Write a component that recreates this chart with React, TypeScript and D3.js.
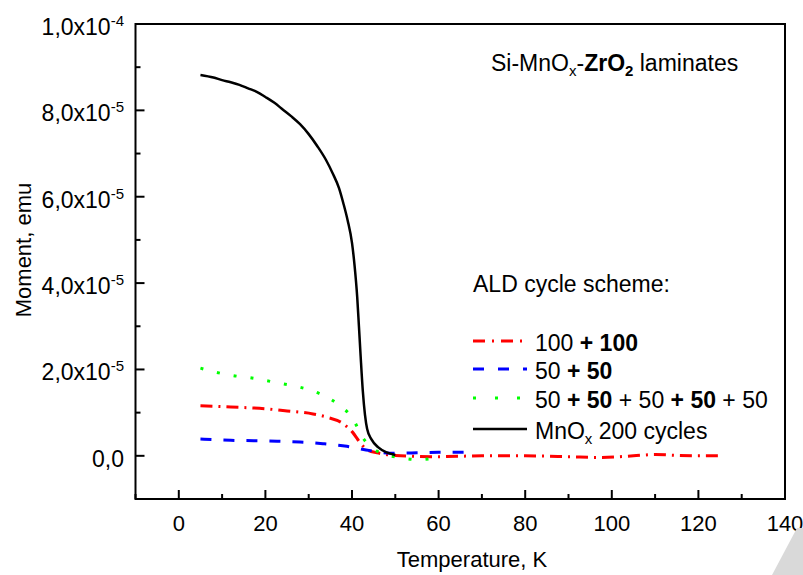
import React from "react";
import * as d3 from "d3";

const tempBlack = [5, 8, 10, 12, 14, 16, 18, 20, 22, 24, 26, 28, 30, 32, 34, 35.5, 37, 38, 39, 40, 40.6, 41.2, 41.6, 42, 42.5, 43, 43.5, 44.5, 46, 48, 50];
const momentBlack = [8.82, 8.76, 8.7, 8.65, 8.59, 8.51, 8.43, 8.31, 8.18, 8.02, 7.86, 7.68, 7.45, 7.17, 6.85, 6.55, 6.2, 5.85, 5.45, 4.93, 4.4, 3.68, 3.0, 2.3, 1.5, 0.95, 0.62, 0.38, 0.2, 0.08, 0.02].map((v) => v * 1e-5);

const tempRed = [5, 12, 20, 25, 31, 34, 38, 40, 42.3, 43.5, 45.8, 50, 60, 70, 80, 90, 97, 105, 110, 115, 120, 125];
const momentRed = [1.16, 1.13, 1.09, 1.04, 0.97, 0.9, 0.74, 0.56, 0.25, 0.14, 0.07, 0.01, -0.02, 0.0, 0.0, -0.02, -0.04, 0.0, 0.03, 0.01, 0.0, 0.0].map((v) => v * 1e-5);

const tempBlue = [5, 12, 22.7, 28, 33.3, 38.8, 44.2, 48.8, 55, 60, 65, 68];
const momentBlue = [0.39, 0.36, 0.34, 0.32, 0.28, 0.22, 0.12, 0.06, 0.07, 0.08, 0.08, 0.08].map((v) => v * 1e-5);

const tempGreen = [5, 8.8, 13, 16.5, 20.3, 23.8, 27.5, 31, 34.9, 37.2, 40.2, 42.3, 45.3, 48, 51.6, 55.3, 58];
const momentGreen = [2.03, 1.93, 1.85, 1.81, 1.74, 1.67, 1.6, 1.5, 1.32, 1.16, 0.86, 0.45, 0.14, 0.02, -0.05, -0.09, -0.07].map((v) => v * 1e-5);

const xTicks = [0, 20, 40, 60, 80, 100, 120, 140];
const xMinorTicks = [-10, 10, 30, 50, 70, 90, 110, 130];
const yTicks = [0, 2e-5, 4e-5, 6e-5, 8e-5, 1e-4];
const yTickMantissa = ["0,0", "2,0x10", "4,0x10", "6,0x10", "8,0x10", "1,0x10"];
const yTickExponent = ["", "-5", "-5", "-5", "-5", "-4"];
const yMinorTicks = [1e-5, 3e-5, 5e-5, 7e-5, 9e-5];

const FONT = "Liberation Sans, Arial, sans-serif";

export default function App() {
  const left = 135.5, right = 785, top = 24, bottom = 499;
  const x = d3.scaleLinear().domain([-10, 140]).range([left, right]);
  const y = d3.scaleLinear().domain([-1e-5, 1e-4]).range([bottom, top]);

  const mk = (ts: number[], ms: number[]) =>
    d3.line<number>().x((_, i) => x(ts[i])).y((_, i) => y(ms[i])).curve(d3.curveMonotoneX)(ts) || "";

  const series = [
    { d: mk(tempRed, momentRed), color: "#ff0000", dash: "12,6,2,6", w: 3 },
    { d: mk(tempBlue, momentBlue), color: "#0000ff", dash: "11,12", w: 3 },
    { d: mk(tempGreen, momentGreen), color: "#00ff00", dash: "3,14", w: 3 },
    { d: mk(tempBlack, momentBlack), color: "#000000", dash: "", w: 2.5 },
  ];

  const legendY = [341, 369, 398, 429];
  const legendColors = ["#ff0000", "#0000ff", "#00ff00", "#000000"];
  const legendDash = ["12,7,2,7", "11,14", "3,19", ""];
  const LF = 23;

  return (
    <svg width={803} height={575} style={{ position: "absolute", left: 0, top: 0, background: "#fff" }} fontFamily={FONT}>
      <rect x={0} y={0} width={803} height={575} fill="#fff" />
      <defs>
        <clipPath id="clip">
          <rect x={left} y={top} width={right - left} height={bottom - top} />
        </clipPath>
      </defs>
      <g clipPath="url(#clip)">
        {series.map((s, i) => (
          <path key={i} d={s.d} fill="none" stroke={s.color} strokeWidth={s.w} strokeDasharray={s.dash || undefined} />
        ))}
      </g>
      <rect x={left} y={top} width={right - left} height={bottom - top} fill="none" stroke="#000" strokeWidth={2} />
      {xTicks.map((t) => (
        <g key={"xt" + t}>
          {t < 140 && <line x1={x(t)} x2={x(t)} y1={bottom} y2={bottom - 9} stroke="#000" strokeWidth={2} />}
          <text x={x(t)} y={531} textAnchor="middle" fontSize={22}>{t}</text>
        </g>
      ))}
      {xMinorTicks.map((t) => (
        <line key={"xm" + t} x1={x(t)} x2={x(t)} y1={bottom} y2={bottom - 5} stroke="#000" strokeWidth={2} />
      ))}
      {yTicks.map((t, i) => (
        <g key={"yt" + i}>
          <line x1={left} x2={left + 9} y1={y(t)} y2={y(t)} stroke="#000" strokeWidth={2} />
          <text x={124} y={y(t) + 11} textAnchor="end" fontSize={23}>
            {yTickMantissa[i]}
            {yTickExponent[i] && (
              <tspan fontSize={15} dy={-9}>{yTickExponent[i]}</tspan>
            )}
          </text>
        </g>
      ))}
      {yMinorTicks.map((t) => (
        <line key={"ym" + t} x1={left} x2={left + 5} y1={y(t)} y2={y(t)} stroke="#000" strokeWidth={2} />
      ))}
      <text x={472} y={567} textAnchor="middle" fontSize={22}>Temperature, K</text>
      <text transform="translate(31,250) rotate(-90)" textAnchor="middle" fontSize={22}>Moment, emu</text>
      <text x={491} y={71} fontSize={LF}>
        Si-MnO<tspan fontSize={15} dy={5}>x</tspan>
        <tspan dy={-5}>-</tspan>
        <tspan fontWeight="bold">ZrO</tspan>
        <tspan fontWeight="bold" fontSize={15} dy={5}>2</tspan>
        <tspan dy={-5}> laminates</tspan>
      </text>
      <text x={473} y={292} fontSize={LF}>ALD cycle scheme:</text>
      {legendY.map((ly, i) => (
        <line key={"lg" + i} x1={473} x2={527} y1={ly} y2={ly} stroke={legendColors[i]} strokeWidth={i === 3 ? 2.5 : 3} strokeDasharray={legendDash[i] || undefined} />
      ))}
      <text x={535} y={legendY[0] + 10} fontSize={LF}>
        100 <tspan fontWeight="bold">+ 100</tspan>
      </text>
      <text x={535} y={legendY[1] + 10} fontSize={LF}>
        50 <tspan fontWeight="bold">+ 50</tspan>
      </text>
      <text x={535} y={legendY[2] + 10} fontSize={LF}>
        50 <tspan fontWeight="bold">+ 50</tspan> + 50 <tspan fontWeight="bold">+ 50</tspan> + 50
      </text>
      <text x={535} y={legendY[3] + 10} fontSize={LF}>
        MnO<tspan fontSize={15} dy={5}>x</tspan>
        <tspan dy={-5}> 200 cycles</tspan>
      </text>
      <polygon points="772,575 797,528 803,528 803,575" fill="#d9d9d9" />
    </svg>
  );
}
